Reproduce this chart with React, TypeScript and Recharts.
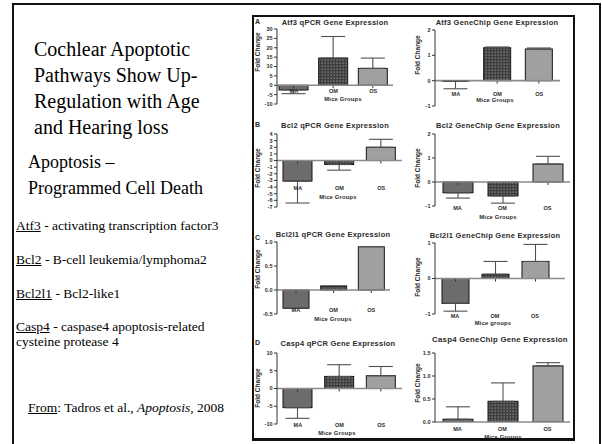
import React from "react";
import { BarChart, Bar, XAxis, YAxis, ErrorBar, ReferenceLine } from "recharts";

const groups = ["MA", "OM", "OS"];

// Atf3
const atf3QpcrMean = [-2.5, 14.5, 9.0];
const atf3QpcrSem = [2.0, 11.5, 5.5];
const atf3ChipMean = [-0.02, 1.3, 1.25];
const atf3ChipSem = [0.3, 0.03, 0.04];
// Bcl2
const bcl2QpcrMean = [-3.1, -0.6, 2.0];
const bcl2QpcrSem = [3.3, 0.85, 1.2];
const bcl2ChipMean = [-0.45, -0.58, 0.75];
const bcl2ChipSem = [0.22, 0.3, 0.32];
// Bcl2l1
const bcl2l1QpcrMean = [-0.38, 0.085, 0.9];
const bcl2l1QpcrSem = [0, 0, 0];
const bcl2l1ChipMean = [-0.7, 0.12, 0.48];
const bcl2l1ChipSem = [0.22, 0.36, 0.48];
// Casp4
const casp4QpcrMean = [-5.4, 3.4, 3.6];
const casp4QpcrSem = [3.0, 3.3, 2.6];
const casp4ChipMean = [0.06, 0.45, 1.22];
const casp4ChipSem = [0.27, 0.4, 0.07];

const ticksA1 = [-10, -5, 0, 5, 10, 15, 20, 25, 30];
const ticksA2 = [-1, 0, 1, 2];
const ticksB1 = [-7, -6, -5, -4, -3, -2, -1, 0, 1, 2, 3, 4];
const ticksB2 = [-1, 0, 1, 2];
const ticksC1 = [-0.5, 0, 0.5, 1.0];
const ticksC2 = [-1, 0, 1];
const ticksD1 = [-10, -5, 0, 5, 10];
const ticksD2 = [0, 0.5, 1.0, 1.5];

const SANS = '"Liberation Sans", Arial, sans-serif';
const SERIF = '"Liberation Serif", "Times New Roman", serif';
const INK = "#2a2a2a";
const PANEL_X = 252;
const PANEL_Y = 15;
const fills = ["#6c6c6c", "url(#omDots)", "#a0a0a0"];
const oneDec = (v: number) => v.toFixed(1);

const charts = [
  { letter: "A", title: "Atf3 qPCR Gene Expression", xLabel: "Mice Groups", mean: atf3QpcrMean, sem: atf3QpcrSem, ticks: ticksA1,
    cellLeft: 252, plotLeft: 277, plotTop: 29, plotBottom: 104, plotRight: 393, padL: -3, padR: 0, barSize: 29,
    labelY: 91, titleX: 335, titleY: 22, titleSize: 7.5, xLabX: 343, xLabY: 99, foldX: 257, foldY: 52, letterY: 22 },
  { title: "Atf3 GeneChip Gene Expression", xLabel: "Mice Groups", mean: atf3ChipMean, sem: atf3ChipSem, ticks: ticksA2,
    cellLeft: 410, plotLeft: 435, plotTop: 30, plotBottom: 106, plotRight: 560, padL: 0, padR: 0, barSize: 27,
    labelY: 94, titleX: 497, titleY: 22, titleSize: 7.5, xLabX: 495, xLabY: 100, foldX: 417, foldY: 55 },
  { letter: "B", title: "Bcl2 qPCR Gene Expression", xLabel: "Mice Groups", mean: bcl2QpcrMean, sem: bcl2QpcrSem, ticks: ticksB1,
    cellLeft: 252, plotLeft: 277, plotTop: 134, plotBottom: 207, plotRight: 402, padL: 0, padR: 0, barSize: 29,
    labelY: 188, titleX: 335, titleY: 125, titleSize: 7.5, xLabX: 338, xLabY: 197, foldX: 257, foldY: 168, letterY: 125 },
  { title: "Bcl2 GeneChip Gene Expression", xLabel: "Mice Groups", mean: bcl2ChipMean, sem: bcl2ChipSem, ticks: ticksB2,
    cellLeft: 410, plotLeft: 435, plotTop: 134, plotBottom: 206, plotRight: 570, padL: 0, padR: 0, barSize: 30,
    labelY: 208, titleX: 498, titleY: 125, titleSize: 7.5, xLabX: 498, xLabY: 217, foldX: 417, foldY: 168 },
  { letter: "C", title: "Bcl2l1 qPCR Gene Expression", xLabel: "Mice Groups", mean: bcl2l1QpcrMean, sem: bcl2l1QpcrSem, ticks: ticksC1, fmt: oneDec,
    cellLeft: 252, plotLeft: 277, plotTop: 242, plotBottom: 314, plotRight: 390, padL: 0, padR: 0, barSize: 26,
    labelY: 310, titleX: 333, titleY: 234, titleSize: 7.5, xLabX: 333, xLabY: 319, foldX: 257, foldY: 269, letterY: 238 },
  { title: "Bcl2l1 GeneChip Gene Expression", xLabel: "Mice groups", mean: bcl2l1ChipMean, sem: bcl2l1ChipSem, ticks: ticksC2,
    cellLeft: 410, plotLeft: 435, plotTop: 243, plotBottom: 314, plotRight: 565, padL: 0, padR: 10, barSize: 27,
    labelY: 316, titleX: 495, titleY: 235, titleSize: 7.5, xLabX: 493, xLabY: 323, foldX: 417, foldY: 277 },
  { letter: "D", title: "Casp4 qPCR Gene Expression", xLabel: "Mice Groups", mean: casp4QpcrMean, sem: casp4QpcrSem, ticks: ticksD1,
    cellLeft: 252, plotLeft: 277, plotTop: 353, plotBottom: 424, plotRight: 402, padL: 0, padR: 0, barSize: 29,
    labelY: 425, titleX: 338, titleY: 343, titleSize: 7.5, xLabX: 337, xLabY: 433, foldX: 257, foldY: 388, letterY: 343 },
  { title: "Casp4 GeneChip Gene Expression", xLabel: "Mice Groups", mean: casp4ChipMean, sem: casp4ChipSem, ticks: ticksD2, fmt: oneDec,
    cellLeft: 410, plotLeft: 435, plotTop: 353, plotBottom: 422, plotRight: 570, padL: 0, padR: 0, barSize: 30,
    labelY: 429, titleX: 500, titleY: 340, titleSize: 7.8, xLabX: 503, xLabY: 437, foldX: 417, foldY: 383 },
];

const BarShape = (props: any) => {
  const { x, y, width, height, index, payload } = props;
  const top = Math.min(y, y + height);
  const h = Math.abs(height);
  const zero = payload.value >= 0 ? top + h : top;
  const cx = x + width / 2;
  return (
    <g>
      <rect x={x} y={top} width={width} height={h} fill={fills[index]} stroke="#151515" strokeWidth={1} />
      <line x1={cx} y1={zero} x2={cx} y2={zero + 3} stroke="#333" strokeWidth={1} />
    </g>
  );
};

const GroupTick = (props: any) => {
  const { x, y, payload, dy } = props;
  return (
    <text x={x} y={y + dy} dy="0.35em" textAnchor="middle" fontSize={5.5} fontWeight={700} fill={INK} fontFamily={SANS}>
      {payload.value}
    </text>
  );
};

const FoldTitle = (props: any) => {
  const { cx, cy } = props;
  return (
    <text x={cx} y={cy} transform={`rotate(-90 ${cx} ${cy})`} textAnchor="middle" dominantBaseline="central"
      fontSize={6.5} fontWeight={700} fill={INK} fontFamily={SANS}>
      Fold Change
    </text>
  );
};

const Label = ({ x, y, size, children, spacing = 0.2 }: any) => (
  <div style={{ position: "absolute", left: x - PANEL_X - 150, top: y - PANEL_Y - size * 0.6, width: 300,
    textAlign: "center", whiteSpace: "nowrap", fontFamily: SANS, fontWeight: 700, fontSize: size,
    lineHeight: `${size * 1.2}px`, color: INK, letterSpacing: spacing }}>
    {children}
  </div>
);

function MiniChart({ c }: { c: any }) {
  const boxTop = c.plotTop - 6;
  const width = c.plotRight + 4 - c.cellLeft;
  const height = c.plotBottom + 30 - boxTop;
  const data = groups.map((g, i) => ({
    group: g,
    value: c.mean[i],
    err: c.mean[i] >= 0 ? [0, c.sem[i]] : [c.sem[i], 0],
  }));
  const hasErr = c.sem.some((v: number) => v > 0);
  return (
    <div style={{ position: "absolute", left: c.cellLeft - PANEL_X, top: boxTop - PANEL_Y }}>
      <BarChart width={width} height={height} data={data} margin={{ top: 6, right: 4, bottom: 0, left: 0 }}>
        <YAxis
          type="number"
          domain={[c.ticks[0], c.ticks[c.ticks.length - 1]]}
          ticks={c.ticks}
          interval={0}
          allowDataOverflow
          width={c.plotLeft - c.cellLeft}
          tickFormatter={c.fmt}
          axisLine={{ stroke: "#333", strokeWidth: 1 }}
          tickLine={{ stroke: "#333" }}
          tickSize={3}
          tickMargin={1.5}
          tick={{ fontSize: 5.5, fontWeight: 700, fill: INK, fontFamily: SANS }}
          label={<FoldTitle cx={c.foldX - c.cellLeft} cy={c.foldY - boxTop} />}
        />
        <XAxis
          dataKey="group"
          axisLine={false}
          tickLine={false}
          tickSize={0}
          tickMargin={0}
          height={30}
          interval={0}
          padding={{ left: c.padL, right: c.padR }}
          tick={<GroupTick dy={c.labelY - c.plotBottom} />}
        />
        <ReferenceLine y={0} stroke="#8a8a8a" strokeWidth={1.6} />
        <Bar dataKey="value" barSize={c.barSize} shape={BarShape} isAnimationActive={false}>
          {hasErr && <ErrorBar dataKey="err" width={12} stroke="#505050" strokeWidth={1.1} direction="y" />}
        </Bar>
      </BarChart>
    </div>
  );
}

export default function App() {
  const small: React.CSSProperties = { position: "absolute", left: 16, fontSize: 13.5, lineHeight: "15px", whiteSpace: "nowrap" };
  return (
    <div style={{ position: "absolute", left: 0, top: 0, width: 602, height: 444, background: "#fff", overflow: "hidden",
      fontFamily: SERIF, color: "#000" }}>
      <svg width={0} height={0} style={{ position: "absolute" }}>
        <defs>
          <pattern id="omDots" width={3} height={3} patternUnits="userSpaceOnUse">
            <rect width={3} height={3} fill="#3e3e3e" />
            <rect x={0.5} y={0.5} width={1.2} height={1.2} fill="#9a9a9a" />
          </pattern>
        </defs>
      </svg>

      {/* slide frame */}
      <div style={{ position: "absolute", left: 12, top: 3, width: 589, height: 460, boxSizing: "border-box",
        borderTop: "2px solid #111", borderLeft: "2px solid #111", borderRight: "2px solid #111" }} />

      <div style={{ position: "absolute", left: 34, top: 36, fontSize: 20, lineHeight: "26px", whiteSpace: "nowrap" }}>
        Cochlear Apoptotic<br />Pathways Show Up-<br />Regulation with Age<br />and Hearing loss
      </div>
      <div style={{ position: "absolute", left: 28, top: 149, fontSize: 18, lineHeight: "26px", whiteSpace: "nowrap" }}>
        Apoptosis –<br />Programmed Cell Death
      </div>

      <div style={{ ...small, top: 218 }}><u>Atf3</u> - activating transcription factor3</div>
      <div style={{ ...small, top: 252 }}><u>Bcl2</u> - B-cell leukemia/lymphoma2</div>
      <div style={{ ...small, top: 286 }}><u>Bcl2l1</u> - Bcl2-like1</div>
      <div style={{ ...small, top: 319 }}><u>Casp4</u> - caspase4 apoptosis-related<br />cysteine protease 4</div>
      <div style={{ ...small, left: 28, top: 400 }}><u>From</u>: Tadros et al., <i>Apoptosis</i>, 2008</div>

      {/* figure panel */}
      <div style={{ position: "absolute", left: PANEL_X, top: PANEL_Y, width: 321, height: 425, overflow: "hidden" }}>
        {charts.map((c, i) => (
          <React.Fragment key={i}>
            <MiniChart c={c} />
            <Label x={c.titleX} y={c.titleY} size={c.titleSize} spacing={0.25}>{c.title}</Label>
            <Label x={c.xLabX} y={c.xLabY} size={5.8}>{c.xLabel}</Label>
            {c.letter && (
              <div style={{ position: "absolute", left: 3, top: c.letterY - PANEL_Y - 4, fontFamily: SANS, fontWeight: 700,
                fontSize: 7, lineHeight: "8px", color: INK }}>{c.letter}</div>
            )}
          </React.Fragment>
        ))}
      </div>
      <div style={{ position: "absolute", left: PANEL_X, top: PANEL_Y, width: 323, height: 426, boxSizing: "border-box",
        border: "2px solid #111", borderBottomWidth: 3 }} />
    </div>
  );
}
